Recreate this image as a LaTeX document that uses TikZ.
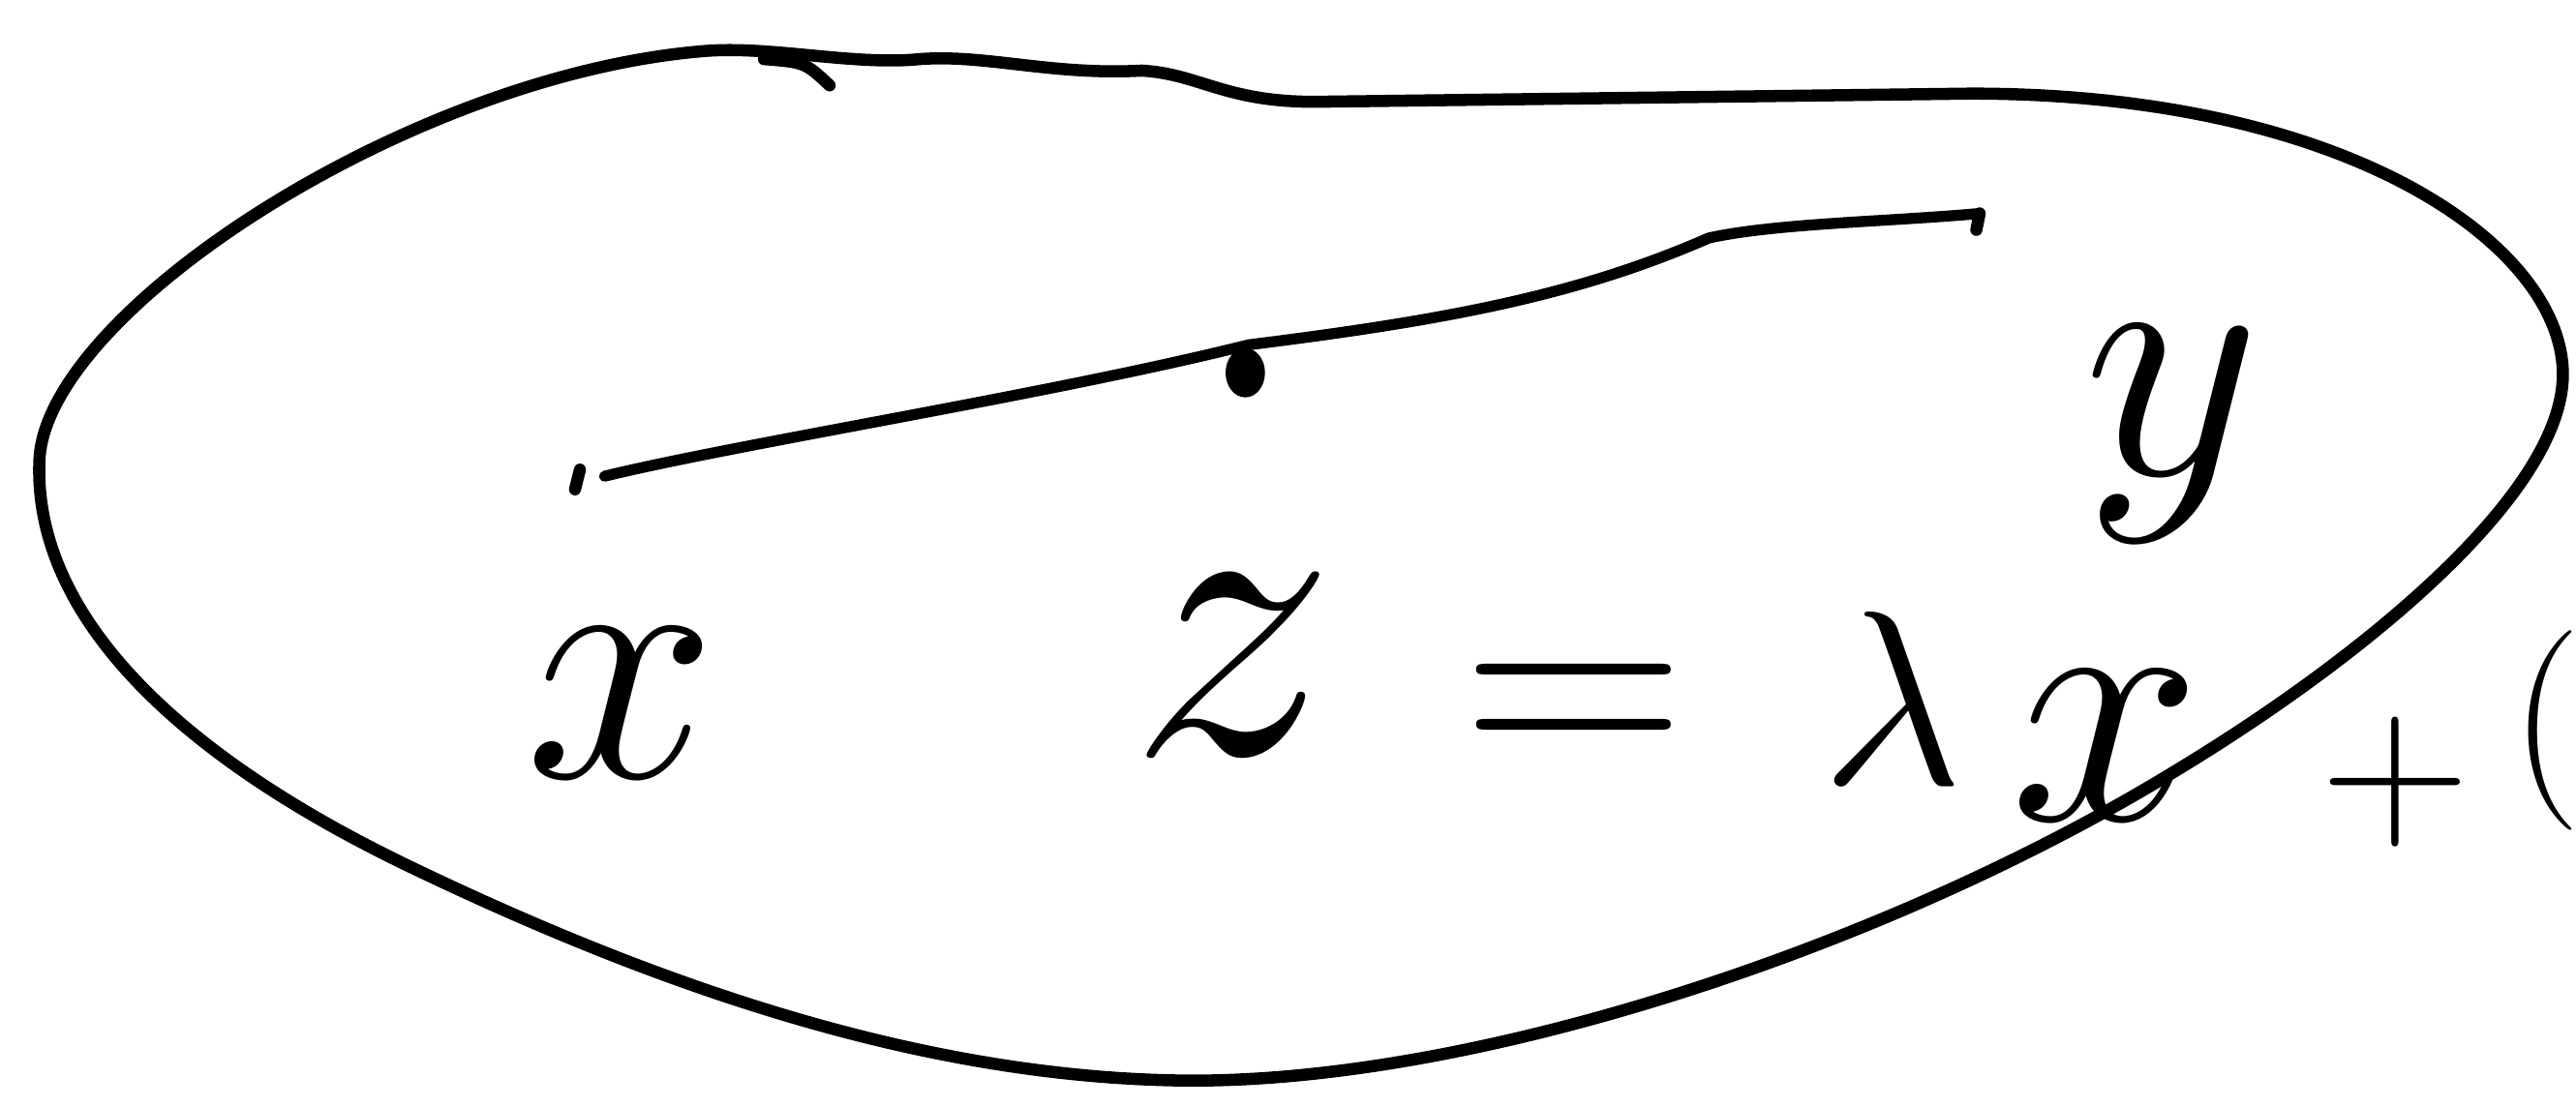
\documentclass[tikz,border=0pt]{standalone}
\usepackage{amsmath,amssymb}
\usetikzlibrary{positioning}
\tikzset{
  pen/.style={line width=2.1pt, line cap=round, line join=round},
  letter/.style={inner sep=0pt, font=\Huge, scale=2.4},
}

\begin{document}
\begin{tikzpicture}[x=0.01cm,y=-0.01cm]
      \useasboundingbox (0,0) rectangle (1568,674);
      \clip (0,0) rectangle (1568,674);
      % the set
      \draw[pen] (430,31) .. controls (470,28) and (520,40) .. (560,36)
        .. controls (600,33) and (640,46) .. (695,43)
        .. controls (730,45) and (745,62) .. (800,62)
        -- (1200,57)
        .. controls (1430,57) and (1560,150) .. (1560,228)
        .. controls (1560,300) and (1440,400) .. (1320,472)
        .. controls (1150,575) and (900,660) .. (720,658)
        .. controls (560,656) and (400,600) .. (250,528)
        .. controls (100,456) and (20,370) .. (24,280)
        .. controls (28,190) and (250,45) .. cycle;
      \draw[pen] (465,36) .. controls (490,38) .. (505,52);

      \coordinate (px) at (368,290);
      \coordinate (pz) at (760,210);
      \coordinate (py) at (1205,130);

      \draw[pen, line width=1.9pt] (px) .. controls (450,270) and (640,240) .. (pz)
        .. controls (880,195) and (960,180) .. (1040,145)
        .. controls (1080,136) and (1150,135) .. (py);
      \draw[pen] (353,286) -- (350,298);
      \draw[pen] (1205,130) -- (1203,140);
      \fill (pz) ++(-2,17) ellipse (12 and 15);

      \node[letter] (xl) at (378,428) {$x$};
      \node[letter, scale=1.2] (zl) at (750,405) {$z$};
      \node[letter] (yl) at (1322,264) {$y$};
      \node[letter, scale=0.9] (eq) at (958,438) {$=$};
      \node[letter, scale=0.72] (lam) at (1152,425) {$\lambda$};
      \node[letter] (xr) at (1282,454) {$x$};
      \node[letter, scale=0.6] (plus) at (1458,476) {$+$};
      \node[letter, scale=0.58] (par) at (1550,445) {$($};
\end{tikzpicture}
\end{document}
